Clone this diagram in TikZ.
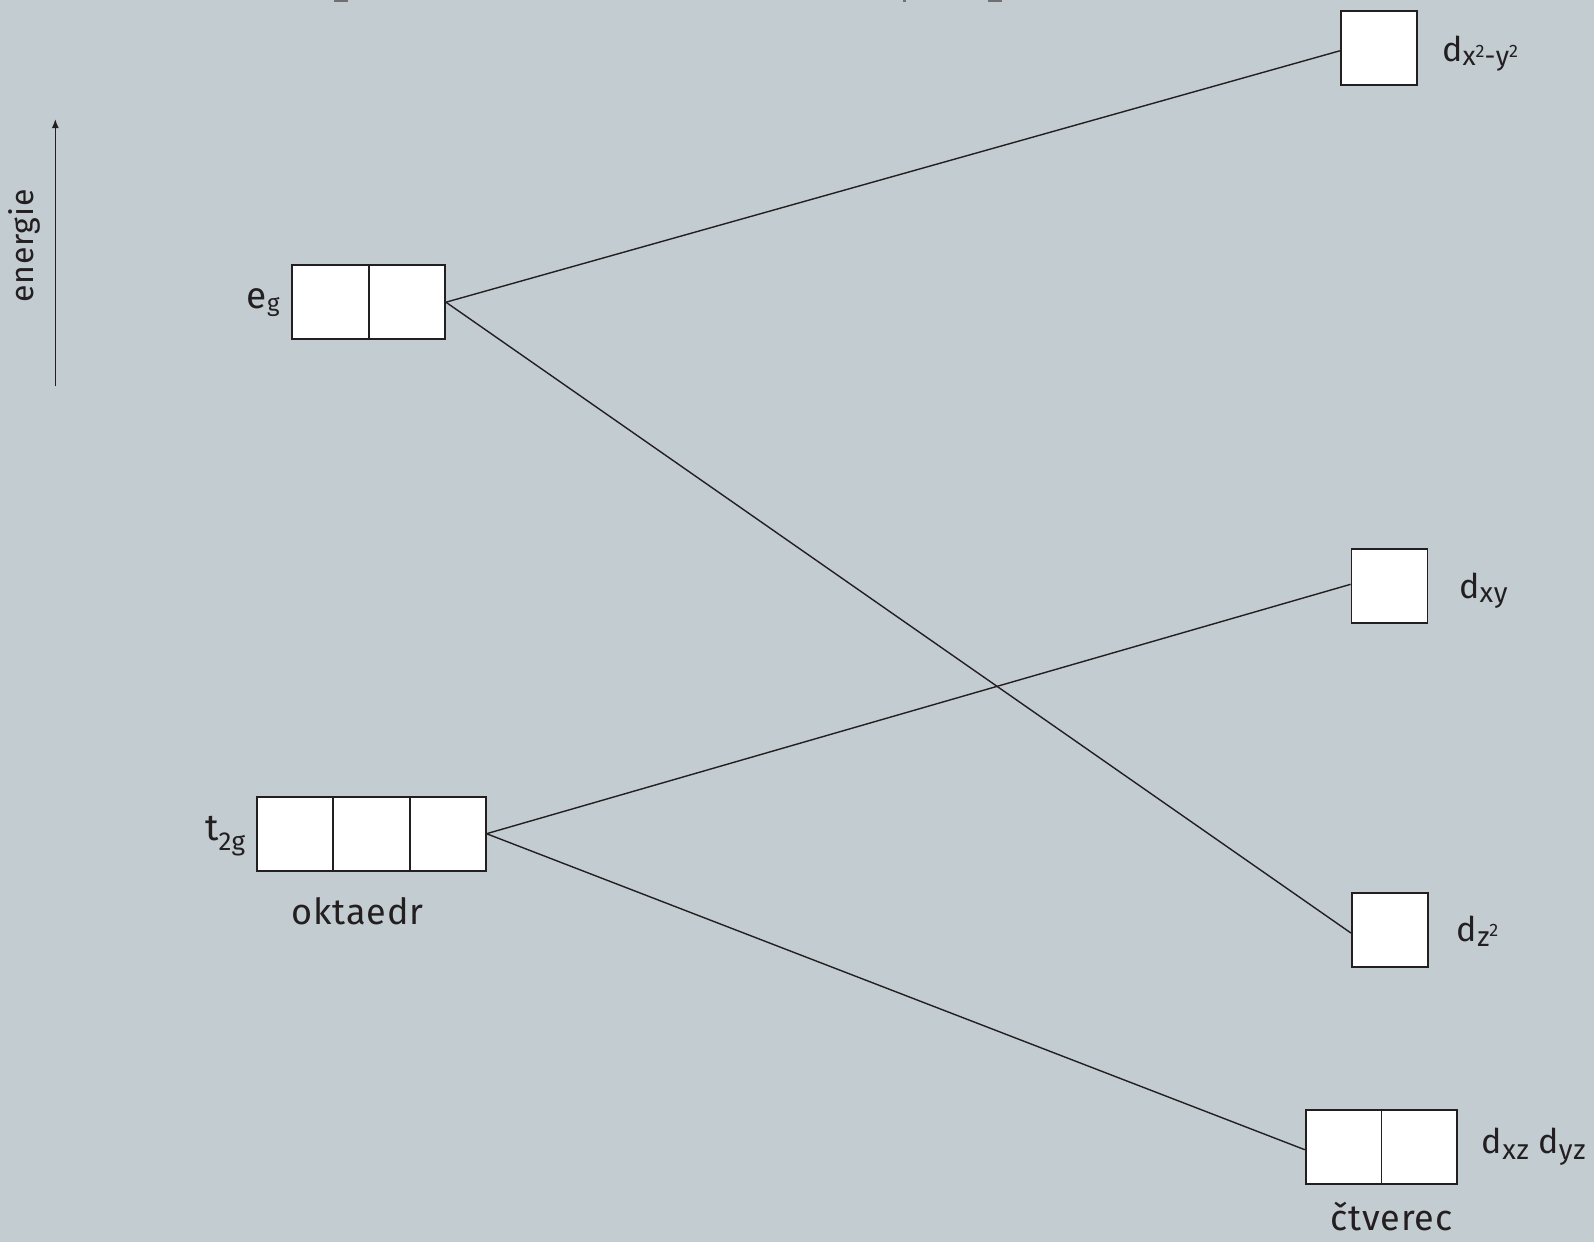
\documentclass[tikz,border=0pt]{standalone}
\usepackage{fontspec}
\setmainfont{Fira Sans}[LetterSpace=2.5]
\usetikzlibrary{calc,arrows.meta}
\definecolor{bg}{RGB}{195,204,209}
\definecolor{ink}{RGB}{35,31,32}
\definecolor{tickgray}{RGB}{112,112,112}
% lowered/raised text of a given size: \shiftsz{offset}{size}{text}
\newcommand\shiftsz[3]{\raisebox{#1}{\fontsize{#2}{#2}\selectfont #3}}
\begin{document}
\begin{tikzpicture}[x=1pt,y=-1pt,
  orb/.style={rectangle, draw=ink, fill=white, line width=1.8pt, inner sep=0pt,
              minimum height=74pt, minimum width=76pt},
  divider/.style={draw=ink, line width=1.8pt},
  link/.style={draw=ink, line width=1.4pt},
  lbl/.style={inner sep=0pt, anchor=base west, text=ink, font=\fontsize{34}{39}\selectfont},
  biglbl/.style={lbl, font=\fontsize{37}{42}\selectfont},
  caption/.style={inner sep=0pt, anchor=base, text=ink, font=\fontsize{36}{42}\selectfont},
]
\fill[bg] (0,0) rectangle (1594,1242);
\useasboundingbox (0,0) rectangle (1594,1242);

% remnants along the top edge
\fill[tickgray] (334,0) rectangle (348,1.6);
\fill[tickgray] (903,0) rectangle (906,1.6);
\fill[tickgray] (988,0) rectangle (1002,1.6);

% energy axis
\coordinate (ebot) at (55.3,386);
\coordinate (etop) at (55.3,119);
\draw[ink, line width=1.4pt, -{Latex[length=9pt,width=7pt]}] (ebot) -- (etop);
\node[inner sep=0pt, anchor=base, rotate=90, text=ink, font=\fontsize{32}{37}\selectfont]
  (energie) at (33.3,246) {energie};

% octahedral levels
\node[orb, minimum width=152.7pt] (eg) at (368.7,302.2) {};
\draw[divider] (eg.north) -- (eg.south);
\node[orb, minimum width=228.7pt] (t2g) at (371.3,833.7) {};
\draw[divider] ($(t2g.north west)!1/3!(t2g.north east)$) -- ($(t2g.south west)!1/3!(t2g.south east)$);
\draw[divider] ($(t2g.north west)!2/3!(t2g.north east)$) -- ($(t2g.south west)!2/3!(t2g.south east)$);

% square planar levels
\node[orb] (dx2y2) at (1378.7,47.8) {};
\node[orb] (dxy) at (1389.5,586.3) {};
\node[orb] (dz2) at (1389.8,930) {};
\node[orb, minimum width=151.6pt] (dxzyz) at (1381.5,1146.7) {};
\draw[divider] (dxzyz.north) -- (dxzyz.south);

% correlation lines
\draw[link] (eg.east) -- ($(dx2y2.west)+(0,3)$);
\draw[link] (eg.east) -- ($(dz2.west)+(0,3)$);
\draw[link] (t2g.east) -- ($(dxy.west)+(0,-2)$);
\draw[link] (t2g.east) -- ($(dxzyz.west)+(0,3)$);

% level labels
\node[biglbl] (eglbl) at (246.7,308.3) {e\shiftsz{-3.5pt}{24}{g}};
\node[biglbl] (t2glbl) at (205,840) {t\shiftsz{-10pt}{26}{2g}};
\node[caption] (okt) at (357.5,924) {oktaedr};
\node[caption] (ctv) at (1391.5,1230) {čtverec};

\node[lbl] (ldx2y2) at (1442,61) {d\shiftsz{-4.7pt}{27}{x\shiftsz{8.4pt}{18}{2}-y\shiftsz{8.4pt}{18}{2}}};
\node[lbl] (ldxy) at (1459,598) {d\shiftsz{-4pt}{28}{xy}};
\node[lbl] (ldz2) at (1456.7,941.7) {d\shiftsz{-5pt}{28}{z\shiftsz{10pt}{18}{2}}};
\node[lbl] (ldxzyz) at (1481.7,1153.3) {d\shiftsz{-5.7pt}{28}{xz} d\shiftsz{-5.7pt}{28}{yz}};
\end{tikzpicture}
\end{document}
